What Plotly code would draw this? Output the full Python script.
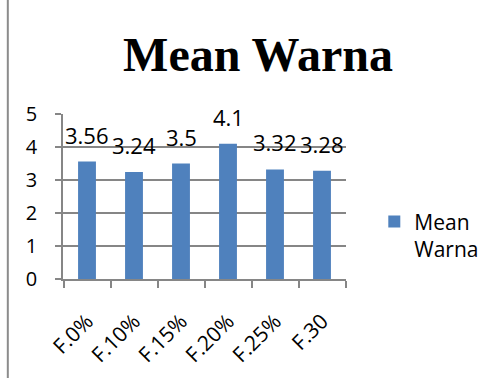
import plotly.graph_objects as go

categories = ["F.0%", "F.10%", "F.15%", "F.20%", "F.25%", "F.30"]
mean_warna = [3.56, 3.24, 3.5, 4.1, 3.32, 3.28]
y_ticks = [0, 1, 2, 3, 4, 5]

BAR = "#4F81BD"
GRID = "#868686"
BODY_FONT = "Open Sans"

fig = go.Figure()
fig.add_trace(go.Bar(
    x=categories,
    y=mean_warna,
    name="Mean<br>Warna",
    marker=dict(color=BAR, line=dict(width=0)),
    showlegend=True,
))

# value labels above each bar
for cat, val in zip(categories, mean_warna):
    fig.add_annotation(
        x=cat, y=val, text=f"{val:g}", showarrow=False,
        yanchor="bottom", xanchor="center", yshift=10,
        font=dict(family=BODY_FONT, size=22, color="#000000"),
    )

# thin page rule along the left edge
fig.add_shape(
    type="line", xref="paper", yref="paper",
    x0=-0.195, x1=-0.195, y0=-0.6, y1=1.7,
    line=dict(color="#8C8C8C", width=2),
)

fig.update_layout(
    width=500, height=380,
    margin=dict(l=63, r=154, t=114, b=99),
    paper_bgcolor="white", plot_bgcolor="white",
    bargap=0.62,
    title=dict(
        text="<b>Mean Warna</b>",
        font=dict(family="Liberation Serif", size=48, color="#000000"),
        x=258 / 500, xanchor="center", xref="container",
        y=1 - 54 / 380, yanchor="middle", yref="container",
    ),
    legend=dict(
        x=1.1, xanchor="left", y=0.47, yanchor="top",
        font=dict(family=BODY_FONT, size=21, color="#000000"),
        valign="top", bgcolor="rgba(0,0,0,0)",
        tracegroupgap=0,
    ),
    xaxis=dict(
        type="category",
        tickangle=-45,
        ticks="outside", tickson="boundaries", ticklen=7,
        tickcolor=GRID, tickwidth=1.5,
        showline=True, linecolor=GRID, linewidth=1.5,
        showgrid=False,
        tickfont=dict(family=BODY_FONT, size=21, color="#000000"),
        ticklabelstandoff=20,
    ),
    yaxis=dict(
        range=[0, 5],
        tickvals=y_ticks,
        ticks="outside", ticklen=6, tickcolor=GRID, tickwidth=1.5,
        showline=True, linecolor=GRID, linewidth=1.5,
        showgrid=True, gridcolor=GRID, gridwidth=1.5,
        zeroline=False,
        tickfont=dict(family=BODY_FONT, size=20, color="#000000"),
        ticklabelstandoff=14,
    ),
)

fig.write_html("out.html")
